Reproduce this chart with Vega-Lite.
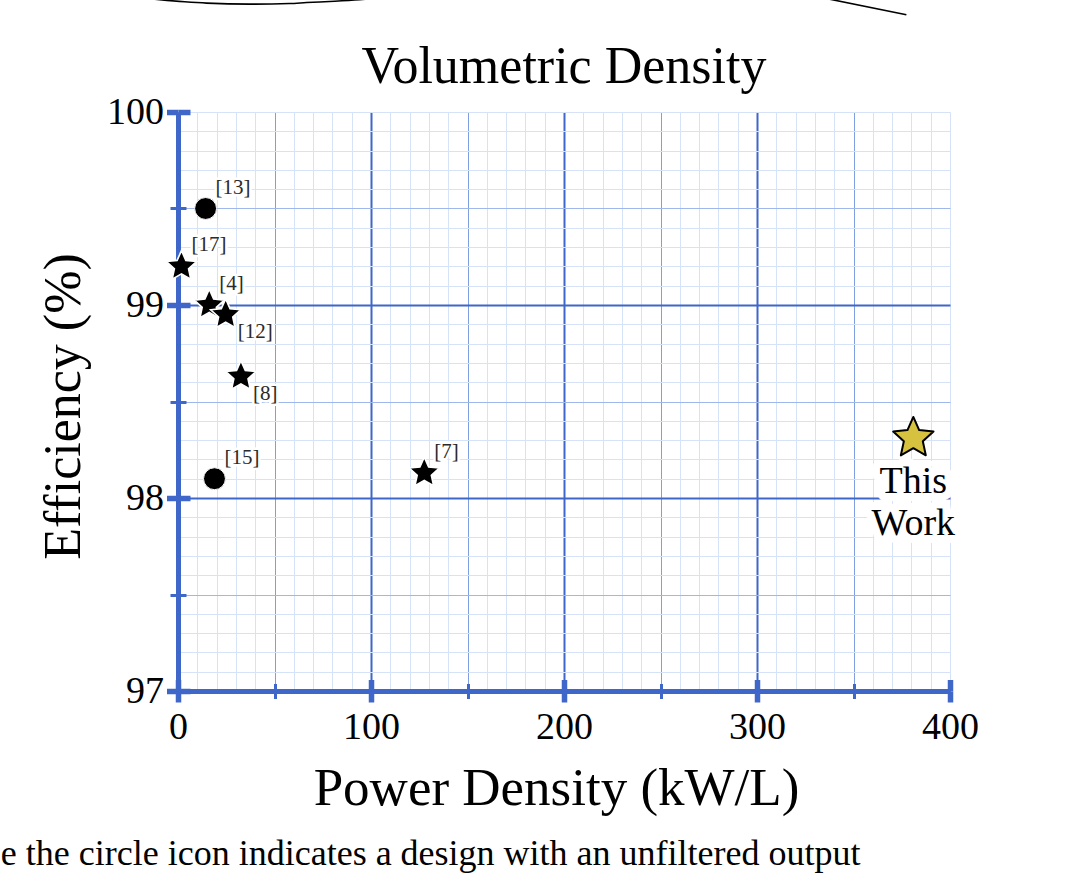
{
  "$schema": "https://vega.github.io/schema/vega-lite/v6.json",
  "width": 772,
  "height": 579,
  "autosize": {"type": "none"},
  "padding": {"left": 178, "top": 112, "right": 131, "bottom": 192},
  "background": "white",
  "config": {
    "font": "Liberation Serif",
    "view": {"stroke": null}
  },
  "title": {
    "text": "Volumetric Density",
    "fontSize": 52,
    "fontWeight": "normal",
    "color": "black",
    "frame": "group",
    "anchor": "middle",
    "baseline": "alphabetic",
    "offset": -139
  },
  "datasets": {
    "works": [
      {"ref": "[13]", "pd": 14.3, "eff": 99.5, "kind": "circle", "pos": "above"},
      {"ref": "[17]", "pd": 1.8, "eff": 99.2, "kind": "star", "pos": "above"},
      {"ref": "[4]", "pd": 16.2, "eff": 99.0, "kind": "star", "pos": "above"},
      {"ref": "[12]", "pd": 24.7, "eff": 98.95, "kind": "star", "pos": "below"},
      {"ref": "[8]", "pd": 32.6, "eff": 98.63, "kind": "star", "pos": "below"},
      {"ref": "[15]", "pd": 18.9, "eff": 98.1, "kind": "circle", "pos": "above"},
      {"ref": "[7]", "pd": 127.6, "eff": 98.13, "kind": "star", "pos": "above"},
      {"ref": "This Work", "pd": 381, "eff": 98.31, "kind": "ours", "pos": "under"}
    ],
    "strokes": [
      {"piece": "arc", "pd": -14.7, "eff": 100.587},
      {"piece": "arc", "pd": -9.5, "eff": 100.582},
      {"piece": "arc", "pd": 3.5, "eff": 100.571},
      {"piece": "arc", "pd": 14.9, "eff": 100.564},
      {"piece": "arc", "pd": 37.1, "eff": 100.559},
      {"piece": "arc", "pd": 57.8, "eff": 100.562},
      {"piece": "arc", "pd": 66.6, "eff": 100.567},
      {"piece": "arc", "pd": 81.1, "eff": 100.574},
      {"piece": "arc", "pd": 94.0, "eff": 100.582},
      {"piece": "arc", "pd": 100.3, "eff": 100.587},
      {"piece": "slash", "pd": 336.4, "eff": 100.587},
      {"piece": "slash", "pd": 377.4, "eff": 100.504}
    ],
    "note": [
      {"pd": -91.8, "eff": 96.097, "text": "e the circle icon indicates a design with an unfiltered output"}
    ]
  },
  "encoding": {
    "x": {"field": "pd", "type": "quantitative", "scale": {"domain": [0, 400], "nice": false, "zero": false}, "axis": null},
    "y": {"field": "eff", "type": "quantitative", "scale": {"domain": [97, 100], "nice": false, "zero": false}, "axis": null}
  },
  "layer": [
    {
      "data": {"name": "strokes"},
      "mark": {"type": "line", "color": "black", "strokeWidth": 1.6, "interpolate": "monotone", "clip": false},
      "encoding": {"detail": {"field": "piece", "type": "nominal"}}
    },
    {
      "data": {"name": "note"},
      "mark": {"type": "text", "align": "left", "baseline": "alphabetic", "fontSize": 36, "color": "black", "clip": false},
      "encoding": {"text": {"field": "text", "type": "nominal"}}
    },
    {
      "data": {"name": "works"},
      "transform": [{"filter": "datum.pos === 'above'"}],
      "mark": {"type": "text", "align": "left", "baseline": "middle", "dx": 10, "dy": -21, "fontSize": 21, "fill": "white", "stroke": "white", "strokeWidth": 5, "strokeJoin": "round"},
      "encoding": {"text": {"field": "ref", "type": "nominal"}}
    },
    {
      "data": {"name": "works"},
      "transform": [{"filter": "datum.pos === 'below'"}],
      "mark": {"type": "text", "align": "left", "baseline": "middle", "dx": 12, "dy": 17.5, "fontSize": 21, "fill": "white", "stroke": "white", "strokeWidth": 5, "strokeJoin": "round"},
      "encoding": {"text": {"field": "ref", "type": "nominal"}}
    },
    {
      "data": {"name": "works"},
      "transform": [{"filter": "datum.pos === 'above'"}],
      "mark": {"type": "text", "align": "left", "baseline": "middle", "dx": 10, "dy": -21, "fontSize": 21, "fill": "#2b2b2b"},
      "encoding": {"text": {"field": "ref", "type": "nominal"}}
    },
    {
      "data": {"name": "works"},
      "transform": [{"filter": "datum.pos === 'below'"}],
      "mark": {"type": "text", "align": "left", "baseline": "middle", "dx": 12, "dy": 17.5, "fontSize": 21, "fill": "#2b2b2b"},
      "encoding": {"text": {"field": "ref", "type": "nominal"}}
    },
    {
      "data": {"name": "works"},
      "transform": [{"filter": "datum.kind === 'circle'"}],
      "mark": {"type": "point", "shape": "circle", "filled": true, "size": 480, "fill": "black", "stroke": "white", "strokeWidth": 1, "opacity": 1},
      "encoding": {
        "x": {
          "field": "pd", "type": "quantitative",
          "scale": {"domain": [0, 400], "nice": false, "zero": false},
          "axis": {
            "orient": "bottom",
            "tickCount": 40,
            "grid": true,
            "gridColor": {"condition": [{"test": "datum.value % 100 === 0 && datum.value < 400", "value": "#3f66c9"}, {"test": "datum.value % 50 === 0 && datum.value < 400", "value": "#7f9fe3"}], "value": "#d6e2f7"},
            "gridWidth": {"condition": [{"test": "datum.value % 100 === 0 && datum.value < 400", "value": 2}], "value": 1},
            "domain": true,
            "domainColor": "#3f66c9",
            "domainWidth": 5,
            "ticks": true,
            "tickColor": "#3f66c9",
            "tickSize": {"condition": [{"test": "datum.value % 100 === 0", "value": 11}, {"test": "datum.value % 50 === 0", "value": 7.5}], "value": 0},
            "tickWidth": {"condition": [{"test": "datum.value % 100 === 0", "value": 5.5}], "value": 3},
            "labelExpr": "datum.value % 100 === 0 ? format(datum.value, 'd') : ''",
            "labelFontSize": 38,
            "labelColor": "black",
            "labelPadding": 6,
            "labelOverlap": false,
            "labelFlush": false,
            "title": "Power Density (kW/L)",
            "titleFontSize": 53,
            "titleFontWeight": "normal",
            "titleColor": "black",
            "titleBaseline": "alphabetic",
            "titleX": 378,
            "titleY": 113
          }
        },
        "y": {
          "field": "eff", "type": "quantitative",
          "scale": {"domain": [97, 100], "nice": false, "zero": false},
          "axis": {
            "orient": "left",
            "tickCount": 30,
            "grid": true,
            "gridColor": {"condition": [{"test": "datum.value % 1 === 0 && datum.value < 100", "value": "#3f66c9"}, {"test": "datum.value % 0.5 === 0 && datum.value < 100", "value": "#9fb7ea"}], "value": "#d6e2f7"},
            "gridWidth": {"condition": [{"test": "datum.value % 1 === 0 && datum.value < 100", "value": 2}], "value": 1},
            "domain": true,
            "domainColor": "#3f66c9",
            "domainWidth": 5,
            "ticks": true,
            "tickColor": "#3f66c9",
            "tickSize": {"condition": [{"test": "datum.value % 1 === 0", "value": 11.5}, {"test": "datum.value % 0.5 === 0", "value": 8}], "value": 0},
            "tickWidth": {"condition": [{"test": "datum.value % 1 === 0", "value": 5.5}], "value": 3},
            "labelExpr": "datum.value % 1 === 0 ? format(datum.value, 'd') : ''",
            "labelFontSize": 38,
            "labelColor": "black",
            "labelPadding": 3,
            "labelOverlap": false,
            "labelFlush": false,
            "labelBaseline": "middle",
            "title": "Efficiency (%)",
            "titleFontSize": 52,
            "titleFontWeight": "normal",
            "titleColor": "black",
            "titleBaseline": "alphabetic",
            "titleX": -99,
            "titleY": 294
          }
        }
      }
    },
    {
      "data": {"name": "works"},
      "transform": [{"filter": "datum.kind === 'star'"}],
      "mark": {"type": "point", "shape": "M0,-1L0.276,-0.38L0.951,-0.309L0.447,0.145L0.588,0.809L0,0.47L-0.588,0.809L-0.447,0.145L-0.951,-0.309L-0.276,-0.38Z", "filled": true, "size": 1000, "fill": "black", "stroke": "white", "strokeWidth": 1.6, "strokeJoin": "miter", "opacity": 1},
      "encoding": {
        "x": {
          "field": "pd", "type": "quantitative",
          "scale": {"domain": [0, 400], "nice": false, "zero": false},
          "axis": {
            "orient": "bottom",
            "tickCount": 40,
            "grid": false,
            "domain": false,
            "labels": false,
            "title": null,
            "ticks": true,
            "tickColor": "#3f66c9",
            "tickSize": {"condition": [{"test": "datum.value % 100 === 0", "value": -11.5}, {"test": "datum.value % 50 === 0", "value": -7.5}], "value": 0},
            "tickWidth": {"condition": [{"test": "datum.value % 100 === 0", "value": 5.5}], "value": 3}
          }
        },
        "y": {
          "field": "eff", "type": "quantitative",
          "scale": {"domain": [97, 100], "nice": false, "zero": false},
          "axis": {
            "orient": "left",
            "tickCount": 30,
            "grid": false,
            "domain": false,
            "labels": false,
            "title": null,
            "ticks": true,
            "tickColor": "#3f66c9",
            "tickSize": {"condition": [{"test": "datum.value % 1 === 0", "value": -12}, {"test": "datum.value % 0.5 === 0", "value": -8}], "value": 0},
            "tickWidth": {"condition": [{"test": "datum.value % 1 === 0", "value": 5.5}], "value": 3}
          }
        }
      }
    },
    {
      "data": {"name": "works"},
      "transform": [{"filter": "datum.kind === 'ours'"}],
      "mark": {"type": "text", "align": "center", "baseline": "alphabetic", "dy": 55, "fontSize": 38, "lineHeight": 42, "lineBreak": " ", "fill": "white", "stroke": "white", "strokeWidth": 16, "strokeJoin": "round"},
      "encoding": {"text": {"field": "ref", "type": "nominal"}}
    },
    {
      "data": {"name": "works"},
      "transform": [{"filter": "datum.kind === 'ours'"}],
      "mark": {"type": "text", "align": "center", "baseline": "alphabetic", "dy": 55, "fontSize": 38, "lineHeight": 42, "lineBreak": " ", "fill": "black"},
      "encoding": {"text": {"field": "ref", "type": "nominal"}}
    },
    {
      "data": {"name": "works"},
      "transform": [{"filter": "datum.kind === 'ours'"}],
      "mark": {"type": "point", "shape": "M0,-1L0.276,-0.38L0.951,-0.309L0.447,0.145L0.588,0.809L0,0.47L-0.588,0.809L-0.447,0.145L-0.951,-0.309L-0.276,-0.38Z", "filled": true, "size": 1800, "fill": "#d6c23f", "stroke": "black", "strokeWidth": 2, "strokeJoin": "round", "opacity": 1}
    }
  ],
  "resolve": {"axis": {"x": "independent", "y": "independent"}}
}
